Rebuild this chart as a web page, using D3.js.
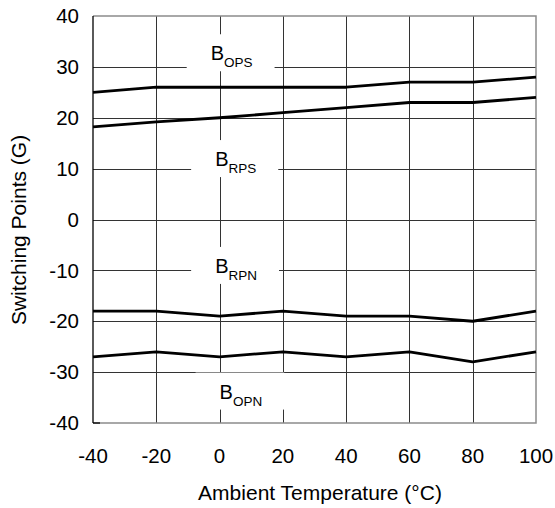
<!DOCTYPE html>
<html>
<head>
<meta charset="utf-8">
<script src="https://cdn.jsdelivr.net/npm/d3@7"></script>
<style>
  body { margin: 0; background: #fff; }
  text { font-family: "Liberation Sans", Arial, sans-serif; fill: #000; }
</style>
</head>
<body>
<div id="chart"></div>
<script>
// temperatures (°C)
var temps = [-40, -20, 0, 20, 40, 60, 80, 100];
// switching points (G)
var bOps = [25, 26, 26, 26, 26, 27, 27, 28];
var bRps = [18.2, 19.2, 20, 21, 22, 23, 23, 24];
var bRpn = [-18, -18, -19, -18, -19, -19, -20, -18];
var bOpn = [-27, -26, -27, -26, -27, -26, -28, -26];
var xTicks = [-40, -20, 0, 20, 40, 60, 80, 100];
var yTicks = [-40, -30, -20, -10, 0, 10, 20, 30, 40];
var labelMain = ["B", "B", "B", "B"];
var labelSub = ["OPS", "RPS", "RPN", "OPN"];

const width = 555;
const height = 508;
const margin = { top: 16, right: 19, bottom: 85, left: 93 };

// where each label sits, in data units (x of the "B", y of the baseline)
const labelPos = [
  { x: -2.8, y: 31.3 },
  { x: -1.4, y: 10.5 },
  { x: -1.4, y: -10.5 },
  { x: -0.0, y: -35.2 }
];

const svg = d3.select('#chart')
  .append('svg')
  .attr('width', width)
  .attr('height', height);

const x = d3.scaleLinear()
  .domain([-40, 100])
  .range([margin.left, width - margin.right]);

const y = d3.scaleLinear()
  .domain([-40, 40])
  .range([height - margin.bottom, margin.top]);

// grid
svg.append("g")
  .attr("stroke", "#333")
  .attr("stroke-width", 1)
  .selectAll("line.v")
  .data(xTicks.slice(1, -1))
  .join("line")
  .attr("x1", d => Math.round(x(d)) + 0.5)
  .attr("x2", d => Math.round(x(d)) + 0.5)
  .attr("y1", y(40))
  .attr("y2", y(-40));

svg.append("g")
  .attr("stroke", "#333")
  .attr("stroke-width", 1)
  .selectAll("line.h")
  .data(yTicks.slice(1, -1))
  .join("line")
  .attr("x1", x(-40))
  .attr("x2", x(100))
  .attr("y1", d => Math.round(y(d)) + 0.5)
  .attr("y2", d => Math.round(y(d)) + 0.5);

// frame: top / right / bottom gray, left black
svg.append("path")
  .attr("fill", "none")
  .attr("stroke", "#8c8c8c")
  .attr("stroke-width", 1.5)
  .attr("d", `M${x(-40)},${y(40)}H${x(100)}V${y(-40)}H${x(-40)}`);

svg.append("line")
  .attr("stroke", "#000")
  .attr("stroke-width", 1.3)
  .attr("x1", x(-40)).attr("x2", x(-40))
  .attr("y1", y(40)).attr("y2", y(-40));

svg.append("line")
  .attr("stroke", "#000")
  .attr("stroke-width", 1.3)
  .attr("x1", x(-40)).attr("x2", x(-40) + 7)
  .attr("y1", y(-40)).attr("y2", y(-40));

// labels with white boxes over the grid
const labels = svg.append("g")
  .selectAll("g")
  .data(labelMain.map((m, i) => ({ main: m, sub: labelSub[i], pos: labelPos[i] })))
  .join("g")
  .attr("transform", d => `translate(${x(d.pos.x)},${y(d.pos.y)})`);

labels.append("rect")
  .attr("fill", "#fff");

const txt = labels.append("text")
  .attr("font-size", "20px");
txt.append("tspan").text(d => d.main);
txt.append("tspan")
  .attr("font-size", "13.5px")
  .attr("dy", 7)
  .text(d => d.sub);

labels.each(function () {
  const g = d3.select(this);
  const bb = g.select("text").node().getBBox();
  g.select("rect")
    .attr("x", -24)
    .attr("y", -26)
    .attr("width", bb.width + 46)
    .attr("height", 37);
});

// series lines
const line = d3.line()
  .x((d, i) => x(temps[i]))
  .y(d => y(d));

svg.append("g")
  .attr("fill", "none")
  .attr("stroke", "#000")
  .attr("stroke-width", 2.8)
  .attr("stroke-linejoin", "round")
  .selectAll("path")
  .data([bOps, bRps, bRpn, bOpn])
  .join("path")
  .attr("d", line);

// tick labels
svg.append("g")
  .attr("font-size", "20.5px")
  .attr("text-anchor", "end")
  .selectAll("text")
  .data(yTicks)
  .join("text")
  .attr("x", 79)
  .attr("y", d => y(d))
  .attr("dy", "0.35em")
  .text(d => d);

svg.append("g")
  .attr("font-size", "20.5px")
  .attr("text-anchor", "middle")
  .selectAll("text")
  .data(xTicks)
  .join("text")
  .attr("x", d => x(d))
  .attr("y", 463)
  .text(d => d);

// axis titles
svg.append("text")
  .attr("font-size", "21px")
  .attr("text-anchor", "middle")
  .attr("x", 320)
  .attr("y", 500)
  .text("Ambient Temperature (°C)");

svg.append("text")
  .attr("font-size", "21px")
  .attr("text-anchor", "middle")
  .attr("transform", "translate(26,230) rotate(-90)")
  .text("Switching Points (G)");
</script>
</body>
</html>
